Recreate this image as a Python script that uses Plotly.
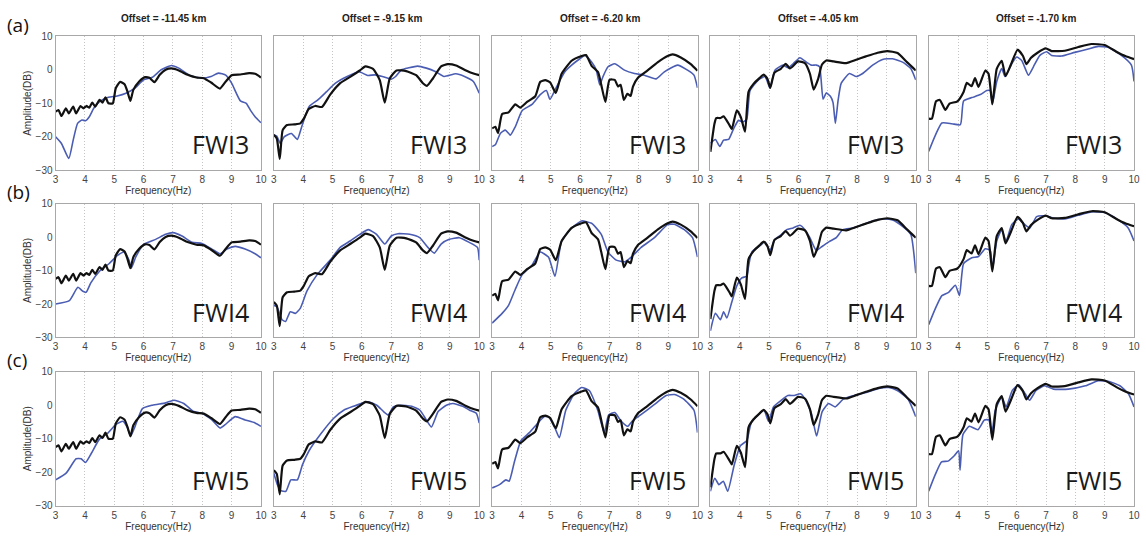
import plotly.graph_objects as go

# ---------------- data ----------------
offsets = ["Offset = -11.45 km", "Offset = -9.15 km", "Offset = -6.20 km",
           "Offset = -4.05 km", "Offset = -1.70 km"]
row_tags = ["(a)", "(b)", "(c)"]
model_names = ["FWI3", "FWI4", "FWI5"]
freq_ticks = [3, 4, 5, 6, 7, 8, 9, 10]
amp_ticks = [-30, -20, -10, 0, 10]

# observed spectra (black), one per offset
obs1_f = [3.0, 3.1, 3.2, 3.35, 3.45, 3.6, 3.7, 3.85, 3.95, 4.05, 4.15, 4.25, 4.35, 4.5, 4.6, 4.7, 4.8, 4.95,
          5.05, 5.2, 5.35, 5.45, 5.55, 5.65, 5.85, 6.05, 6.2, 6.37, 6.55, 6.75, 6.95, 7.2, 7.5, 7.8, 8.05,
          8.3, 8.6, 8.8, 9.0, 9.3, 9.6, 9.8, 10.0]
obs1_db = [-12.5, -12.0, -13.8, -11.5, -13.0, -11.0, -13.0, -10.8, -11.5, -10.8, -11.3, -9.8, -11.0, -9.0,
           -9.8, -8.2, -10.0, -10.0, -5.5, -3.6, -4.3, -6.5, -9.3, -6.0, -3.5, -2.2, -2.4, -3.7, -1.5, 0.0,
           0.4, -0.2, -1.5, -2.3, -2.5, -3.8, -5.6, -3.5, -1.6, -1.4, -1.0, -1.2, -2.3]

obs2_f = [3.0, 3.1, 3.2, 3.3, 3.45, 3.7, 3.9, 4.02, 4.19, 4.41, 4.64, 4.92, 5.26, 5.6, 5.93, 6.12, 6.38,
          6.61, 6.78, 6.95, 7.18, 7.51, 7.85, 8.08, 8.22, 8.42, 8.7, 8.93, 9.21, 9.55, 9.83, 10.0]
obs2_db = [-19.4, -20.5, -26.6, -18.0, -16.5, -16.3, -16.0, -14.6, -11.7, -10.8, -11.1, -7.4, -4.0, -2.1,
           -0.2, 1.0, 0.3, -3.1, -9.8, -2.6, -0.2, -0.4, -1.6, -4.0, -4.8, -2.6, 1.0, 1.7, 1.3, -0.2, -1.2, -1.6]

obs3_f = [3.0, 3.11, 3.2, 3.34, 3.56, 3.79, 3.96, 4.19, 4.47, 4.64, 4.81, 4.98, 5.17, 5.37, 5.71, 6.05,
          6.2, 6.39, 6.61, 6.72, 6.86, 7.0, 7.18, 7.29, 7.38, 7.49, 7.61, 7.72, 7.8, 7.97, 8.3, 8.64, 8.98,
          9.15, 9.43, 9.77, 10.0]
obs3_db = [-17.5, -17.0, -18.9, -13.2, -12.7, -10.3, -11.3, -9.6, -7.9, -3.6, -3.1, -3.8, -6.9, -1.2, 2.7,
           4.1, 4.4, 1.2, -0.7, -4.5, -9.6, -3.0, -3.0, -5.0, -4.5, -9.0, -7.2, -7.8, -5.0, -2.4, -0.2, 2.2,
           4.1, 4.6, 3.7, 1.7, -0.3]

obs4_f = [3.0, 3.14, 3.2, 3.34, 3.45, 3.65, 3.73, 3.9, 4.04, 4.18, 4.3, 4.47, 4.67, 4.82, 4.95, 5.04, 5.18,
          5.4, 5.57, 5.71, 5.99, 6.22, 6.39, 6.52, 6.67, 6.8, 6.95, 7.2, 7.63, 7.97, 8.3, 8.7, 9.03, 9.38,
          9.7, 9.88, 10.0]
obs4_db = [-24.5, -16.0, -14.4, -14.4, -13.9, -16.5, -17.7, -12.1, -14.2, -18.5, -6.6, -4.2, -2.5, -1.4,
           -2.8, -5.4, -0.9, 0.3, 1.8, 0.4, 2.5, 2.0, -1.1, -5.9, -2.8, 1.5, 2.8, 2.5, 2.0, 3.0, 4.0, 5.1,
           5.6, 5.0, 2.3, 0.8, -0.2]

obs5_f = [3.0, 3.11, 3.25, 3.38, 3.57, 3.71, 3.98, 4.19, 4.3, 4.46, 4.58, 4.7, 4.93, 5.04, 5.17, 5.32,
          5.49, 5.62, 5.8, 6.03, 6.21, 6.33, 6.48, 6.71, 6.99, 7.19, 7.64, 8.1, 8.55, 9.0, 9.4, 9.7, 10.0]
obs5_db = [-14.6, -14.6, -9.4, -9.0, -12.0, -10.1, -9.4, -6.6, -3.9, -4.9, -2.5, -5.1, -0.2, -1.2, -10.3,
           0.3, 2.7, -1.9, 1.5, 6.0, 4.2, 1.7, 3.5, 5.1, 6.4, 5.6, 5.7, 6.8, 7.7, 7.4, 5.4, 4.1, 3.2]

# inverted spectra (blue), FWI3 row
fwi3_1_f = [3.0, 3.2, 3.45, 3.6, 3.75, 3.9, 4.02, 4.15, 4.3, 4.5, 4.8, 5.1, 5.4, 5.7, 6.0, 6.3, 6.6, 6.95,
            7.2, 7.6, 8.0, 8.3, 8.55, 8.8, 9.0, 9.3, 9.5, 9.65, 9.8, 10.0]
fwi3_1_db = [-20.0, -22.0, -26.5, -21.0, -16.0, -15.0, -15.2, -14.0, -11.5, -9.5, -8.2, -7.8, -7.0, -5.5,
             -3.0, -2.2, 0.0, 1.3, 0.5, -1.8, -2.5, -2.0, -1.0, -1.6, -4.0, -9.3, -10.0, -12.2, -14.0, -15.8]
fwi3_2_f = [3.0, 3.1, 3.22, 3.35, 3.6, 3.8, 3.95, 4.2, 4.5, 4.8, 5.1, 5.5, 5.9, 6.2, 6.45, 6.7, 7.0, 7.15,
            7.35, 7.6, 7.9, 8.2, 8.5, 8.8, 9.2, 9.5, 9.8, 10.0]
fwi3_2_db = [-19.5, -19.8, -22.0, -20.0, -19.0, -20.8, -17.0, -11.0, -9.0, -6.5, -4.0, -2.0, -0.6, -1.7,
             -1.5, -2.0, -2.8, -2.0, 0.0, 0.6, 1.1, 0.5, -0.5, -2.0, -1.2, -2.0, -3.5, -7.0]
fwi3_3_f = [3.0, 3.11, 3.28, 3.45, 3.62, 3.79, 4.02, 4.36, 4.64, 4.85, 4.97, 5.2, 5.48, 5.71, 5.99, 6.16,
            6.39, 6.55, 6.67, 6.78, 6.95, 7.18, 7.51, 7.85, 8.19, 8.59, 8.87, 9.32, 9.66, 9.88, 10.0]
fwi3_3_db = [-22.9, -22.4, -19.0, -18.0, -19.5, -17.0, -12.2, -10.3, -7.4, -6.2, -8.8, -5.0, -0.6, 1.4,
             3.3, 4.3, 2.3, -0.1, -4.5, -2.0, 0.9, 1.8, -0.1, -1.1, -1.6, -2.7, -0.6, 1.4, -0.1, -1.6, -5.4]
fwi3_4_f = [3.0, 3.17, 3.32, 3.45, 3.62, 3.79, 3.96, 4.1, 4.24, 4.35, 4.64, 4.86, 5.03, 5.2, 5.48, 5.65,
            5.82, 6.05, 6.27, 6.44, 6.61, 6.72, 6.84, 6.95, 7.09, 7.18, 7.26, 7.35, 7.46, 7.74, 7.97, 8.19,
            8.53, 8.87, 9.21, 9.55, 9.83, 10.0]
fwi3_4_db = [-21.9, -20.8, -22.9, -21.0, -20.8, -17.6, -15.1, -15.6, -14.7, -6.2, -3.0, -2.0, -5.4, -0.1,
             1.4, 0.6, 1.8, 3.6, 2.3, 1.4, 1.4, 0.9, -8.8, -6.9, -7.9, -9.8, -16.0, -9.3, -4.0, -1.1, -2.0,
             -1.1, 1.4, 3.1, 3.3, 2.3, 0.4, -3.0]
fwi3_5_f = [3.0, 3.23, 3.45, 3.79, 4.08, 4.19, 4.47, 4.76, 4.98, 5.1, 5.17, 5.32, 5.49, 5.6, 5.83, 6.0,
            6.17, 6.4, 6.57, 6.79, 7.02, 7.19, 7.53, 7.98, 8.44, 8.78, 9.12, 9.57, 9.91, 10.0]
fwi3_5_db = [-24.4, -19.5, -15.9, -16.1, -16.4, -9.3, -8.3, -7.4, -6.2, -6.2, -10.3, -3.5, 0.4, -2.0, 1.8,
             3.8, 2.8, -1.6, 0.9, 4.3, 5.4, 4.3, 4.1, 5.2, 6.2, 7.0, 6.7, 4.3, 1.4, -3.5]

# FWI4 row
fwi4_1_f = [3.0, 3.47, 3.76, 3.93, 4.04, 4.2, 4.49, 4.83, 5.11, 5.34, 5.5, 5.58, 5.73, 6.01, 6.41, 6.75,
            7.0, 7.31, 7.65, 7.99, 8.33, 8.61, 8.84, 9.12, 9.46, 9.8, 10.0]
fwi4_1_db = [-20.0, -19.0, -15.0, -16.2, -16.5, -13.7, -10.3, -7.9, -5.5, -4.5, -6.9, -9.3, -6.0, -2.1,
             -0.7, 0.8, 1.3, 0.3, -1.6, -1.9, -3.6, -5.0, -3.6, -2.8, -3.6, -5.0, -6.2]
fwi4_2_f = [3.0, 3.11, 3.28, 3.4, 3.56, 3.73, 3.9, 4.13, 4.47, 4.92, 5.26, 5.6, 5.93, 6.22, 6.5, 6.78, 7.0,
            7.23, 7.63, 7.97, 8.25, 8.47, 8.7, 8.98, 9.32, 9.66, 9.94, 10.0]
fwi4_2_db = [-20.4, -20.9, -24.7, -25.2, -22.3, -22.8, -21.3, -16.1, -11.3, -6.9, -3.1, -1.2, 0.8, 2.2,
             0.8, -2.1, 0.3, 1.0, 0.8, -0.2, -3.1, -4.8, -2.1, -0.7, -0.2, -1.6, -3.1, -6.9]
fwi4_3_f = [3.0, 3.34, 3.56, 3.79, 4.02, 4.36, 4.64, 4.92, 5.14, 5.37, 5.71, 6.05, 6.39, 6.72, 6.95, 7.23,
            7.52, 7.74, 8.08, 8.53, 8.98, 9.21, 9.55, 9.83, 10.0]
fwi4_3_db = [-25.7, -22.8, -20.4, -15.6, -11.3, -8.4, -4.5, -6.0, -11.7, -1.2, 2.7, 4.8, 4.1, 0.8, -4.5,
             -6.9, -7.4, -6.0, -3.1, -0.2, 3.7, 3.8, 2.2, -0.2, -6.0]
fwi4_4_f = [3.0, 3.17, 3.34, 3.45, 3.56, 3.73, 3.9, 4.07, 4.24, 4.3, 4.41, 4.69, 4.86, 5.03, 5.2, 5.43,
            5.6, 5.82, 6.05, 6.22, 6.39, 6.61, 6.84, 7.06, 7.29, 7.51, 7.85, 8.19, 8.53, 8.87, 9.21, 9.55,
            9.83, 10.0]
fwi4_4_db = [-28.0, -22.8, -24.7, -22.3, -24.2, -19.4, -14.6, -12.2, -11.7, -8.8, -4.5, -2.6, -1.4, -4.0,
             -0.7, 0.8, 2.2, 2.7, 3.5, 2.2, -0.2, -4.0, -2.6, -1.3, -0.2, 2.2, 2.7, 3.7, 4.8, 5.4, 5.1, 3.2,
             0.8, -10.8]
fwi4_5_f = [3.0, 3.23, 3.45, 3.68, 3.91, 4.05, 4.19, 4.47, 4.7, 4.93, 5.1, 5.17, 5.32, 5.49, 5.64, 5.83,
            6.06, 6.28, 6.45, 6.68, 6.96, 7.3, 7.64, 8.1, 8.55, 9.0, 9.46, 9.8, 10.0]
fwi4_5_db = [-26.2, -21.3, -17.5, -16.5, -14.4, -17.5, -7.9, -6.2, -5.8, -3.5, -4.0, -9.8, -1.2, 2.2, -1.2,
             3.7, 5.4, 3.7, 2.7, 6.1, 6.3, 5.6, 5.4, 6.5, 7.5, 7.3, 5.1, 2.7, -1.2]

# FWI5 row
fwi5_1_f = [3.0, 3.36, 3.7, 3.87, 4.02, 4.21, 4.49, 4.77, 5.05, 5.3, 5.45, 5.56, 5.71, 5.96, 6.3, 6.75,
            7.03, 7.37, 7.71, 7.99, 8.33, 8.61, 8.78, 9.12, 9.46, 9.8, 10.0]
fwi5_1_db = [-22.3, -20.3, -16.0, -16.0, -17.1, -14.5, -10.2, -8.4, -5.8, -4.8, -6.8, -9.2, -6.3, -1.0,
             0.0, 0.7, 1.5, 0.5, -1.9, -2.4, -4.4, -6.8, -5.8, -3.4, -4.4, -5.3, -6.3]
fwi5_2_f = [3.0, 3.12, 3.24, 3.41, 3.58, 3.8, 3.97, 4.2, 4.59, 5.04, 5.38, 5.72, 6.06, 6.23, 6.51, 6.74,
            6.9, 7.07, 7.3, 7.7, 7.98, 8.2, 8.37, 8.6, 8.88, 9.1, 9.44, 9.67, 9.9, 10.0]
fwi5_2_db = [-20.3, -23.7, -25.5, -25.7, -22.3, -22.3, -17.9, -13.6, -8.7, -3.9, -1.5, -0.3, 0.7, 1.0,
             0.0, -1.9, -2.9, -0.5, 0.0, -0.3, -1.5, -4.4, -6.5, -1.9, 0.0, 0.5, -0.3, -1.5, -2.4, -5.3]
fwi5_3_f = [3.0, 3.25, 3.47, 3.58, 3.76, 3.98, 4.27, 4.56, 4.78, 4.92, 5.14, 5.29, 5.51, 5.8, 6.05, 6.31,
            6.6, 6.82, 6.97, 7.18, 7.4, 7.62, 7.77, 8.06, 8.5, 8.93, 9.22, 9.52, 9.88, 10.0]
fwi5_3_db = [-24.7, -23.7, -22.3, -22.7, -16.9, -10.6, -8.2, -5.3, -3.4, -3.4, -6.8, -9.7, -1.5, 3.4, 5.3,
             4.4, -1.5, -8.2, -2.9, -2.2, -4.8, -6.3, -4.8, -2.9, 0.0, 2.9, 3.2, 1.9, -1.5, -8.2]
fwi5_4_f = [3.0, 3.15, 3.29, 3.44, 3.59, 3.81, 4.02, 4.24, 4.39, 4.68, 4.83, 4.98, 5.15, 5.42, 5.64, 5.86,
            6.07, 6.22, 6.44, 6.62, 6.81, 7.03, 7.25, 7.54, 7.9, 8.34, 8.78, 9.08, 9.37, 9.73, 10.0]
fwi5_4_db = [-25.7, -21.8, -23.7, -22.7, -25.7, -17.9, -12.1, -10.6, -5.3, -2.4, -1.5, -4.8, -0.5, 1.5,
             2.9, 2.9, 3.4, 1.9, -2.4, -9.2, -1.9, 0.5, -0.5, 1.9, 2.9, 3.9, 5.1, 5.3, 4.4, 1.9, -3.4]
fwi5_5_f = [3.0, 3.22, 3.44, 3.66, 3.88, 4.02, 4.07, 4.17, 4.39, 4.68, 4.9, 5.05, 5.15, 5.27, 5.49, 5.64,
            5.85, 6.07, 6.29, 6.44, 6.66, 6.95, 7.25, 7.76, 8.34, 8.78, 9.15, 9.52, 9.81, 10.0]
fwi5_5_db = [-25.7, -20.8, -16.9, -16.7, -15.0, -13.6, -19.4, -8.7, -6.3, -7.3, -4.4, -4.4, -8.7, -1.5,
             2.4, -0.5, 4.4, 6.1, 3.4, 1.5, 4.4, 5.8, 4.8, 4.8, 5.8, 7.3, 7.1, 5.8, 3.4, -0.5]

observed = [(obs1_f, obs1_db), (obs2_f, obs2_db), (obs3_f, obs3_db), (obs4_f, obs4_db), (obs5_f, obs5_db)]
inverted = [
    [(fwi3_1_f, fwi3_1_db), (fwi3_2_f, fwi3_2_db), (fwi3_3_f, fwi3_3_db), (fwi3_4_f, fwi3_4_db), (fwi3_5_f, fwi3_5_db)],
    [(fwi4_1_f, fwi4_1_db), (fwi4_2_f, fwi4_2_db), (fwi4_3_f, fwi4_3_db), (fwi4_4_f, fwi4_4_db), (fwi4_5_f, fwi4_5_db)],
    [(fwi5_1_f, fwi5_1_db), (fwi5_2_f, fwi5_2_db), (fwi5_3_f, fwi5_3_db), (fwi5_4_f, fwi5_4_db), (fwi5_5_f, fwi5_5_db)],
]

# ---------------- layout geometry (pixels) ----------------
W, H = 1146, 542
col_left = [53, 273, 493, 713, 933]
panel_w = 207
row_top = [31, 202, 374]
panel_h = 137

BLACK = "#111111"
BLUE = "#4b5db3"
FONT = "Liberation Sans, Arial, sans-serif"


def fx(x):
    return x / W


def fy(y):
    return 1 - y / H


fig = go.Figure()
annotations = []
layout_axes = {}

n = 0
for r in range(3):
    for c in range(5):
        n += 1
        xa = "x" if n == 1 else f"x{n}"
        ya = "y" if n == 1 else f"y{n}"
        xkey = "xaxis" if n == 1 else f"xaxis{n}"
        ykey = "yaxis" if n == 1 else f"yaxis{n}"

        of, od = observed[c]
        bf, bd = inverted[r][c]
        fig.add_trace(go.Scatter(x=bf, y=bd, mode="lines", xaxis=xa, yaxis=ya,
                                 line=dict(color=BLUE, width=1.6, shape="spline", smoothing=0.5),
                                 showlegend=False, hoverinfo="skip"))
        fig.add_trace(go.Scatter(x=of, y=od, mode="lines", xaxis=xa, yaxis=ya,
                                 line=dict(color=BLACK, width=2.2, shape="spline", smoothing=0.5),
                                 showlegend=False, hoverinfo="skip"))

        x0 = col_left[c]
        y0 = row_top[r]
        layout_axes[xkey] = dict(
            domain=[fx(x0), fx(x0 + panel_w)], anchor=ya, range=[3, 10],
            tickmode="array", tickvals=freq_ticks, ticktext=[str(t) for t in freq_ticks],
            showgrid=True, gridcolor="#c4c4c4", griddash="1px,2px", gridwidth=1,
            showline=True, mirror=True, linecolor="#a8a8a8", linewidth=1,
            ticks="", zeroline=False,
            tickfont=dict(family=FONT, size=10, color="#444444"),
            title=dict(text="Frequency(Hz)", standoff=0,
                       font=dict(family=FONT, size=10, color="#333333")),
        )
        layout_axes[ykey] = dict(
            domain=[fy(y0 + panel_h), fy(y0)], anchor=xa, range=[-30, 10],
            tickmode="array", tickvals=amp_ticks,
            showgrid=False, zeroline=False,
            showline=True, mirror=True, linecolor="#a8a8a8", linewidth=1,
            ticks="", showticklabels=(c == 0),
            tickfont=dict(family=FONT, size=10, color="#444444"),
        )
        if c == 0:
            layout_axes[ykey]["title"] = dict(text="Amplitude(DB)", standoff=2,
                                              font=dict(family=FONT, size=10, color="#333333"))

        # model label in lower right corner
        annotations.append(dict(
            text=model_names[r], xref="paper", yref="paper",
            x=fx(x0 + panel_w - 10), y=fy(y0 + panel_h - 7),
            xanchor="right", yanchor="bottom", showarrow=False,
            font=dict(family="Open Sans, sans-serif", size=25, color="#1a1a1a"),
        ))

# column headings
for c in range(5):
    annotations.append(dict(
        text=f"<b>{offsets[c]}</b>", xref="paper", yref="paper",
        x=fx(col_left[c] + panel_w / 2 + 5), y=fy(13), xanchor="center", yanchor="middle",
        showarrow=False, font=dict(family=FONT, size=10, color="#222222"),
    ))

# row tags
for r, tag in enumerate(row_tags):
    annotations.append(dict(
        text=tag, xref="paper", yref="paper",
        x=fx(2), y=fy(row_top[r] - 12), xanchor="left", yanchor="middle",
        showarrow=False, font=dict(family="Open Sans, sans-serif", size=19, color="#111111"),
    ))

fig.update_layout(
    width=W, height=H, margin=dict(l=0, r=0, t=0, b=0),
    paper_bgcolor="white", plot_bgcolor="white",
    annotations=annotations, showlegend=False,
    **layout_axes,
)

fig.write_html("out.html")
